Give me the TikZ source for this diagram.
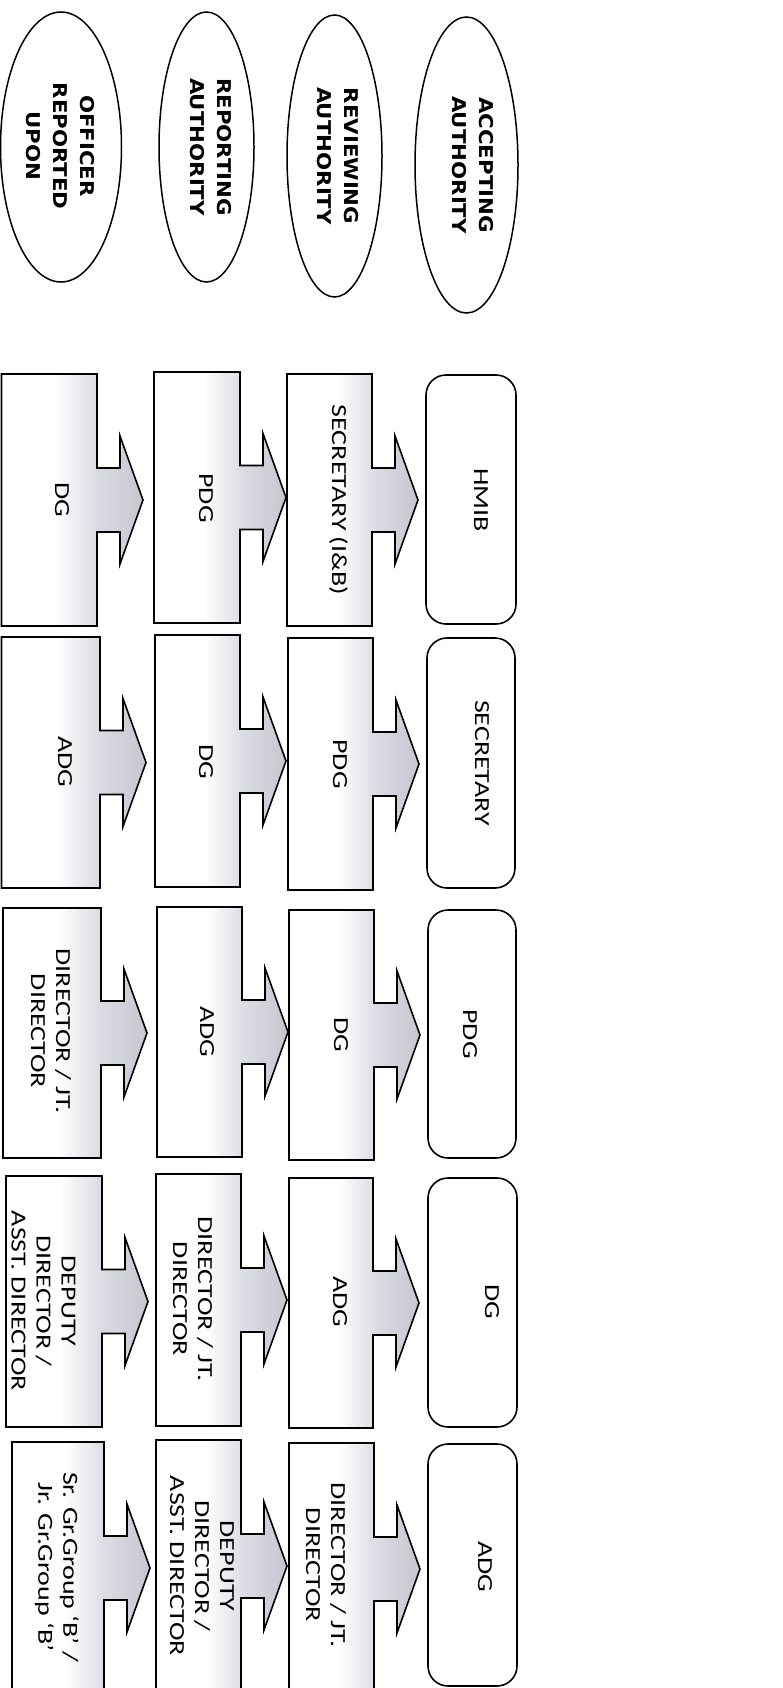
\documentclass[tikz,border=0pt]{standalone}
\usepackage{fontspec}
\usetikzlibrary{shapes.geometric}
\newfontfamily\boxfont{Carlito}[FakeStretch=1.3]
\newfontfamily\ellfont{DejaVu Sans}[FakeStretch=1.12]
\definecolor{shA}{HTML}{DCDCE4}
\definecolor{shB}{HTML}{C6C6D0}
\pgfdeclarehorizontalshading{cshade}{100bp}{color(0bp)=(white); color(25bp)=(white); color(44bp)=(white); color(58bp)=(shA); color(75bp)=(shB); color(100bp)=(shB)}
% callout: left, top, right, bottom
\newcommand\callout[4]{%
  \path[callout] (#1,#2) -- (#3,#2) -- (#3,{(#2+#4)/2-32}) -- ({#3+23},{(#2+#4)/2-32})
    -- ({#3+23},{(#2+#4)/2-64}) -- ({#3+46},{(#2+#4)/2}) -- ({#3+23},{(#2+#4)/2+64})
    -- ({#3+23},{(#2+#4)/2+32}) -- (#3,{(#2+#4)/2+32}) -- (#3,#4) -- (#1,#4) -- cycle;}
\begin{document}
\begin{tikzpicture}[x=1pt,y=-1pt,
  callout/.style={draw=black, line width=1.6pt, shading=cshade, line join=miter},
  rbox/.style={draw=black, line width=1.6pt, rounded corners=20pt, fill=white},
  ell/.style={ellipse, draw=black, line width=1.5pt, inner sep=0pt},
  btxt/.style={font=\boxfont\fontsize{21.5}{25}\selectfont, rotate=-90, align=center, inner sep=0pt},
  etxt/.style={font=\ellfont\bfseries\fontsize{19}{27}\selectfont, rotate=-90, align=center, inner sep=0pt}]
\useasboundingbox (0,0) rectangle (782,1688);
\clip (0,0) rectangle (782,1688);
\fill[white] (0,0) rectangle (782,1688);

% ellipses
\node[ell, minimum width=121pt, minimum height=270pt] (e1) at (61,147) {};
\node[ell, minimum width=95pt, minimum height=270pt] (e2) at (206.5,147) {};
\node[ell, minimum width=95pt, minimum height=282pt] (e3) at (334.5,156) {};
\node[ell, minimum width=103pt, minimum height=296pt] (e4) at (466.5,165) {};
\node[etxt] (t-e1) at (60,146) {OFFICER\\REPORTED\\UPON};
\node[etxt] (t-e2) at (211,147) {REPORTING\\AUTHORITY};
\node[etxt] (t-e3) at (338,156) {REVIEWING\\AUTHORITY};
\node[etxt] (t-e4) at (472.5,165) {ACCEPTING\\AUTHORITY};

% row 1
\callout{1.5}{374}{97}{626}
\callout{154}{372}{240}{623}
\callout{287}{374}{372}{626}
\draw[rbox] (426,375) rectangle (516,624);
\node[btxt] (r1c1) at (62,500) {DG};
\node[btxt] (r1c2) at (206,498) {PDG};
\node[btxt] (r1c3) at (338.5,500) {SECRETARY (I\&B)};
\node[btxt] (r1c4) at (481,500) {HMIB};

% row 2
\callout{1.5}{637}{100}{888}
\callout{155}{635}{240}{887}
\callout{288}{638}{373}{890}
\draw[rbox] (427,638) rectangle (515,888);
\node[btxt] (r2c1) at (65,762) {ADG};
\node[btxt] (r2c2) at (206,762) {DG};
\node[btxt] (r2c3) at (340,764) {PDG};
\node[btxt] (r2c4) at (482,763) {SECRETARY};

% row 3
\callout{3}{908}{101}{1158}
\callout{157}{907}{242}{1157}
\callout{289}{910}{374}{1160}
\draw[rbox] (428,910) rectangle (516,1158);
\node[btxt] (r3c1) at (51,1031) {DIRECTOR / JT.\\DIRECTOR};
\node[btxt] (r3c2) at (207,1032) {ADG};
\node[btxt] (r3c3) at (341,1035) {DG};
\node[btxt] (r3c4) at (470,1034) {PDG};

% row 4
\callout{6}{1176}{102}{1427}
\callout{156}{1174}{241}{1426}
\callout{289}{1178}{373}{1428}
\draw[rbox] (428,1178) rectangle (517,1427);
\node[btxt] (r4c1) at (43.5,1301) {DEPUTY\\DIRECTOR /\\ASST. DIRECTOR};
\node[btxt] (r4c2) at (193,1299) {DIRECTOR / JT.\\DIRECTOR};
\node[btxt] (r4c3) at (340,1302) {ADG};
\node[btxt] (r4c4) at (492,1302) {DG};

% row 5
\callout{12}{1442}{104}{1694}
\callout{156}{1440}{241}{1692}
\callout{289}{1443}{374}{1695}
\draw[rbox] (428,1444) rectangle (517,1686);
\node[btxt] (r5c1) at (57,1567) {Sr. Gr.Group ‘B’ /\\Jr. Gr.Group ‘B’};
\node[btxt] (r5c2) at (202,1566) {DEPUTY\\DIRECTOR /\\ASST. DIRECTOR};
\node[btxt] (r5c3) at (326,1565) {DIRECTOR / JT.\\DIRECTOR};
\node[btxt] (r5c4) at (485,1567) {ADG};
\end{tikzpicture}
\end{document}
